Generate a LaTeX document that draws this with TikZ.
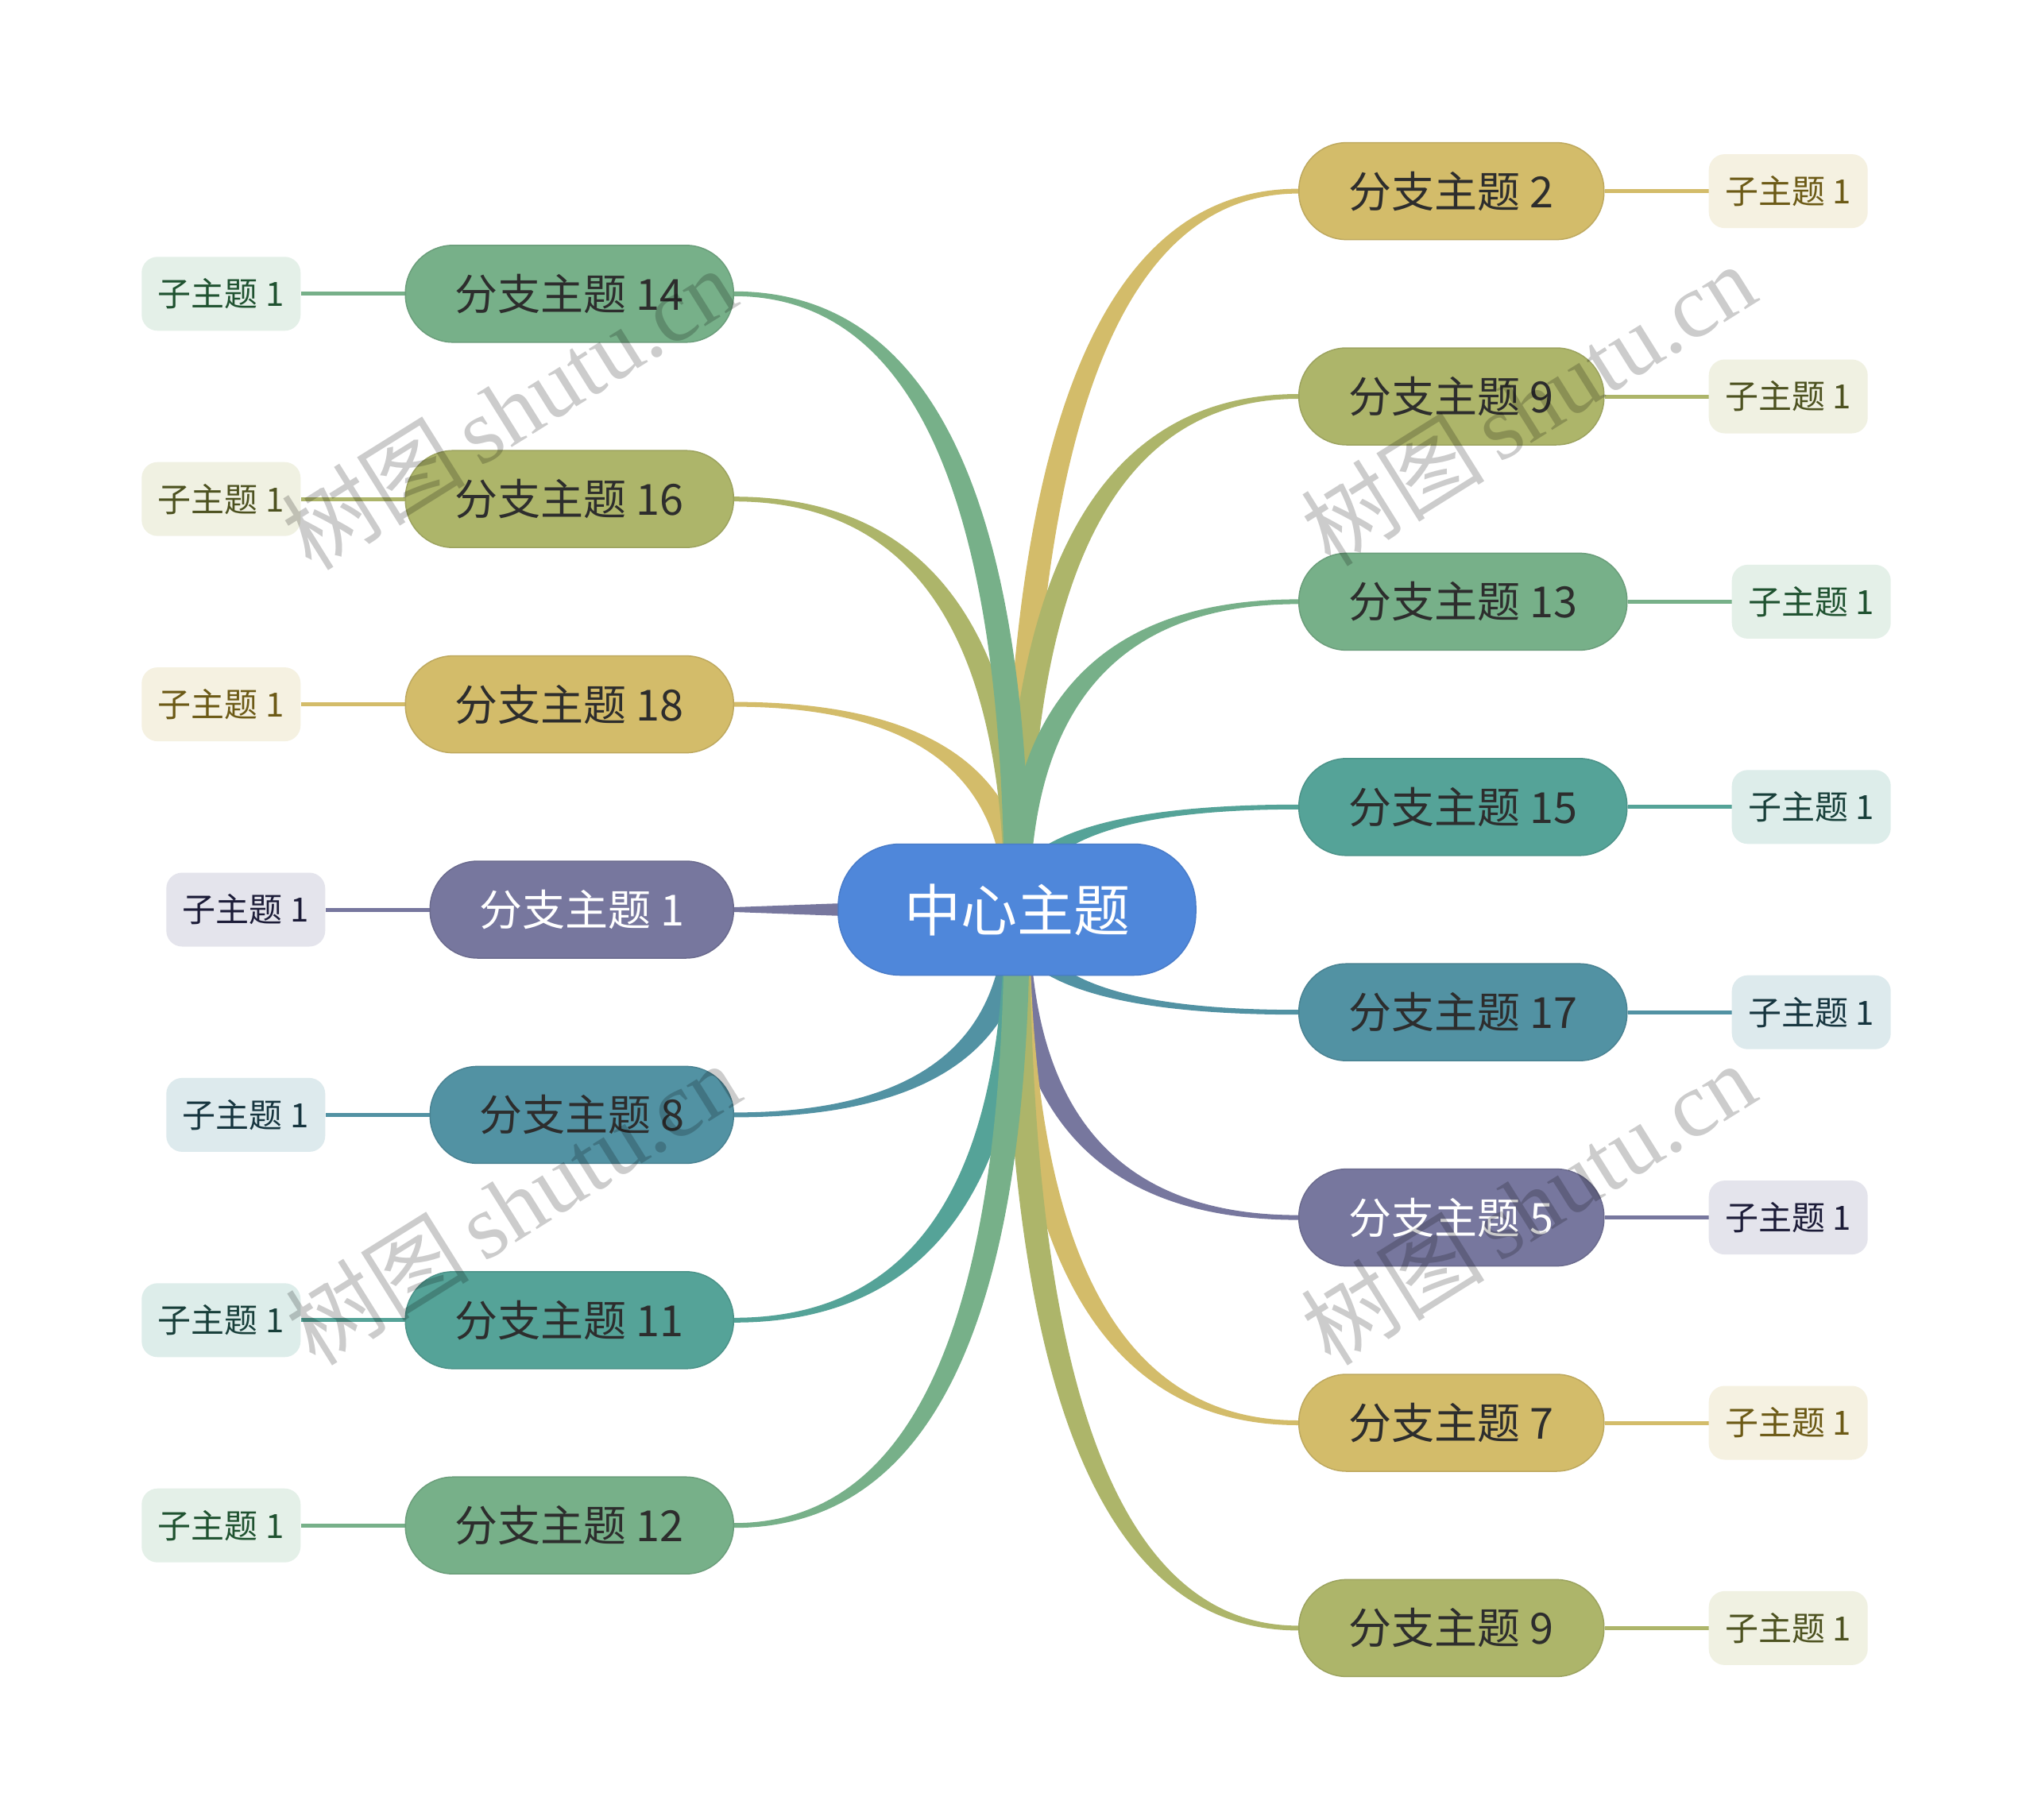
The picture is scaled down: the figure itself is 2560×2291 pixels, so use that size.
\documentclass[tikz,border=0pt]{standalone}
\usepackage{fontspec}
\setmainfont{Noto Sans CJK SC}
\newfontfamily\wmserif{Liberation Serif}
\usetikzlibrary{calc}
\definecolor{cmain}{HTML}{4F87DA}
\definecolor{cgold}{HTML}{D3BC6A}
\definecolor{colive}{HTML}{ADB56A}
\definecolor{cgreen}{HTML}{77B089}
\definecolor{cteal}{HTML}{55A398}
\definecolor{cblue}{HTML}{5292A3}
\definecolor{cpurple}{HTML}{77779E}
\definecolor{sgold}{HTML}{F5F1E1}
\definecolor{solive}{HTML}{F0F1E2}
\definecolor{sgreen}{HTML}{E4F0E8}
\definecolor{steal}{HTML}{DDEDEA}
\definecolor{sblue}{HTML}{DDEAED}
\definecolor{spurple}{HTML}{E4E4EC}
\definecolor{tgold}{HTML}{6C5A16}
\definecolor{tolive}{HTML}{4D5220}
\definecolor{tgreen}{HTML}{1F5230}
\definecolor{tteal}{HTML}{183F3A}
\definecolor{tblue}{HTML}{16353F}
\definecolor{tpurple}{HTML}{1C1C38}
\definecolor{btext}{HTML}{2D2D2D}
\pgfdeclarelayer{back}
\pgfsetlayers{back,main}
\tikzset{
  centernode/.style={fill=cmain, draw=cmain!92!black, line width=1.5pt, rounded corners=78pt,
    minimum width=450pt, minimum height=165pt, inner sep=0pt, text=white,
    font=\fontsize{71}{80}\selectfont},
  branch/.style={fill=#1, draw=#1!90!black, line width=1.5pt, rounded corners=60pt,
    minimum height=122pt, inner sep=0pt, text=btext, font=\fontsize{54}{62}\selectfont},
  subt/.style={rounded corners=20pt, minimum height=93pt, minimum width=200pt,
    inner sep=0pt, font=\fontsize{42}{48}\selectfont},
  sublink/.style={line width=5pt, draw=#1},
  wmark/.style={text=black, opacity=0.2, rotate=32, inner sep=0pt},
}
\newcommand\ribbon[3]{%
  \fill[#1] let \p1=(#2), \p2=(#3),
      \n1={sign((\x2)-(\x1))*sign((\y2)-(\y1))},
      \n2={(\y2)+(\n1)*3}, \n3={(\y2)-(\n1)*3},
      \n4={(\x1)-16}, \n5={(\x1)+16},
      \n6={(\y1)+((\n2)-(\y1))*2/3},
      \n7={(\x2)+((\n4)-(\x2))*2/3},
      \n8={(\x2)+((\n5)-(\x2))*2/3},
      \n9={(\y1)+((\n3)-(\y1))*2/3} in
    ({(\n4)*1pt},\y1) .. controls ({(\n4)*1pt},{(\n6)*1pt}) and ({(\n7)*1pt},{(\n2)*1pt}) .. (\x2,{(\n2)*1pt})
    -- (\x2,{(\n3)*1pt}) .. controls ({(\n8)*1pt},{(\n3)*1pt}) and ({(\n5)*1pt},{(\n9)*1pt}) .. ({(\n5)*1pt},\y1) -- cycle;
}
\begin{document}
\begin{tikzpicture}[x=1pt,y=-1pt]
\useasboundingbox (0,0) rectangle (2560,2291);
\begin{pgfonlayer}{back}
\fill[white] (0,0) rectangle (2560,2291);
\end{pgfonlayer}

% central topic
\node[centernode] (c) at (1280,1145) {中心主题};

% right branches
\node[branch=cgold, minimum width=384pt, anchor=west] (r2) at (1634,240.6) {分支主题 2};
\node[branch=colive, minimum width=384pt, anchor=west] (r9a) at (1634,499) {分支主题 9};
\node[branch=cgreen, minimum width=413pt, anchor=west] (r13) at (1634,757.4) {分支主题 13};
\node[branch=cteal, minimum width=413pt, anchor=west] (r15) at (1634,1015.8) {分支主题 15};
\node[branch=cblue, minimum width=413pt, anchor=west] (r17) at (1634,1274.2) {分支主题 17};
\node[branch=cpurple, minimum width=384pt, anchor=west, text=white] (r5) at (1634,1532.6) {分支主题 5};
\node[branch=cgold, minimum width=384pt, anchor=west] (r7) at (1634,1791) {分支主题 7};
\node[branch=colive, minimum width=384pt, anchor=west] (r9b) at (1634,2049.4) {分支主题 9};

% left branches
\node[branch=cgreen, minimum width=413pt, anchor=east] (l14) at (924,369.8) {分支主题 14};
\node[branch=colive, minimum width=413pt, anchor=east] (l16) at (924,628.2) {分支主题 16};
\node[branch=cgold, minimum width=413pt, anchor=east] (l18) at (924,886.6) {分支主题 18};
\node[branch=cpurple, minimum width=382pt, anchor=east, text=white] (l1) at (924,1145) {分支主题 1};
\node[branch=cblue, minimum width=382pt, anchor=east] (l8) at (924,1403.4) {分支主题 8};
\node[branch=cteal, minimum width=413pt, anchor=east] (l11) at (924,1661.8) {分支主题 11};
\node[branch=cgreen, minimum width=413pt, anchor=east] (l12) at (924,1920.2) {分支主题 12};

% right subtopics
\node[subt, fill=sgold, text=tgold, anchor=west] (r2s) at ($(r2.east)+(131,0)$) {子主题 1};
\node[subt, fill=solive, text=tolive, anchor=west] (r9as) at ($(r9a.east)+(131,0)$) {子主题 1};
\node[subt, fill=sgreen, text=tgreen, anchor=west] (r13s) at ($(r13.east)+(131,0)$) {子主题 1};
\node[subt, fill=steal, text=tteal, anchor=west] (r15s) at ($(r15.east)+(131,0)$) {子主题 1};
\node[subt, fill=sblue, text=tblue, anchor=west] (r17s) at ($(r17.east)+(131,0)$) {子主题 1};
\node[subt, fill=spurple, text=tpurple, anchor=west] (r5s) at ($(r5.east)+(131,0)$) {子主题 1};
\node[subt, fill=sgold, text=tgold, anchor=west] (r7s) at ($(r7.east)+(131,0)$) {子主题 1};
\node[subt, fill=solive, text=tolive, anchor=west] (r9bs) at ($(r9b.east)+(131,0)$) {子主题 1};

% left subtopics
\node[subt, fill=sgreen, text=tgreen, anchor=east] (l14s) at ($(l14.west)-(131,0)$) {子主题 1};
\node[subt, fill=solive, text=tolive, anchor=east] (l16s) at ($(l16.west)-(131,0)$) {子主题 1};
\node[subt, fill=sgold, text=tgold, anchor=east] (l18s) at ($(l18.west)-(131,0)$) {子主题 1};
\node[subt, fill=spurple, text=tpurple, anchor=east] (l1s) at ($(l1.west)-(131,0)$) {子主题 1};
\node[subt, fill=sblue, text=tblue, anchor=east] (l8s) at ($(l8.west)-(131,0)$) {子主题 1};
\node[subt, fill=steal, text=tteal, anchor=east] (l11s) at ($(l11.west)-(131,0)$) {子主题 1};
\node[subt, fill=sgreen, text=tgreen, anchor=east] (l12s) at ($(l12.west)-(131,0)$) {子主题 1};

\begin{pgfonlayer}{back}
% tapered connectors from the centre
\ribbon{cgold}{c.center}{r2.west}
\ribbon{colive}{c.center}{r9a.west}
\ribbon{cgreen}{c.center}{r13.west}
\ribbon{cteal}{c.center}{r15.west}
\ribbon{cgold}{c.center}{l18.east}
\ribbon{colive}{c.center}{l16.east}
\ribbon{cgreen}{c.center}{l14.east}
\ribbon{cblue}{c.center}{r17.west}
\ribbon{cpurple}{c.center}{r5.west}
\ribbon{cgold}{c.center}{r7.west}
\ribbon{colive}{c.center}{r9b.west}
\ribbon{cblue}{c.center}{l8.east}
\ribbon{cteal}{c.center}{l11.east}
\ribbon{cgreen}{c.center}{l12.east}
\fill[cpurple] ($(c.center)+(0,-16)$) -- ($(l1.east)+(0,-3)$) -- ($(l1.east)+(0,3)$) -- ($(c.center)+(0,16)$) -- cycle;
% links to subtopics
\draw[sublink=cgold] (r2.east) -- (r2s.west);
\draw[sublink=colive] (r9a.east) -- (r9as.west);
\draw[sublink=cgreen] (r13.east) -- (r13s.west);
\draw[sublink=cteal] (r15.east) -- (r15s.west);
\draw[sublink=cblue] (r17.east) -- (r17s.west);
\draw[sublink=cpurple] (r5.east) -- (r5s.west);
\draw[sublink=cgold] (r7.east) -- (r7s.west);
\draw[sublink=colive] (r9b.east) -- (r9bs.west);
\draw[sublink=cgreen] (l14.west) -- (l14s.east);
\draw[sublink=colive] (l16.west) -- (l16s.east);
\draw[sublink=cgold] (l18.west) -- (l18s.east);
\draw[sublink=cpurple] (l1.west) -- (l1s.east);
\draw[sublink=cblue] (l8.west) -- (l8s.east);
\draw[sublink=cteal] (l11.west) -- (l11s.east);
\draw[sublink=cgreen] (l12.west) -- (l12s.east);
\end{pgfonlayer}

% watermarks
\node[wmark] (w1) at (640,514) {\fontsize{116}{124}\selectfont 树图\hspace{18pt}{\wmserif shutu.cn}};
\node[wmark] (w2) at (1923,509) {\fontsize{116}{124}\selectfont 树图\hspace{18pt}{\wmserif shutu.cn}};
\node[wmark] (w3) at (645,1515) {\fontsize{116}{124}\selectfont 树图\hspace{18pt}{\wmserif shutu.cn}};
\node[wmark] (w4) at (1923,1515) {\fontsize{116}{124}\selectfont 树图\hspace{18pt}{\wmserif shutu.cn}};
\end{tikzpicture}
\end{document}
